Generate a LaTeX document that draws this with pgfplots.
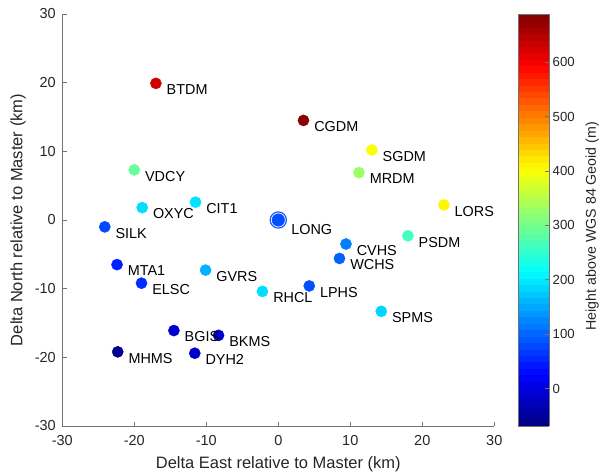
\documentclass[border=0pt]{standalone}
\usepackage{pgfplots}
\pgfplotsset{compat=1.18}
\usepackage{pgfplotstable}
\usepackage{fontspec}
\setmainfont{Liberation Sans}

\definecolor{axgray}{gray}{0.45}
\definecolor{txtgray}{gray}{0.15}
\definecolor{longblue}{RGB}{30,90,255}

% 64-step jet colormap
\pgfplotsset{colormap/jet, colormap={jet64}{samples of colormap=(64 of jet)}}

% station positions (km relative to master) and height above geoid (m)
\pgfplotstableread{
x      y      h    name
-17.0  19.9   630  BTDM
3.5    14.5   680  CGDM
13.0   10.2   400  SGDM
11.2   6.9    330  MRDM
23.0   2.2    410  LORS
18.0   -2.3   263  PSDM
-20.0  7.3    291  VDCY
-18.9  1.8    190  OXYC
-11.5  2.6    196  CIT1
-24.1  -1.0   80   SILK
9.4    -3.5   120  CVHS
8.5    -5.6   98   WCHS
-22.4  -6.5   48   MTA1
-19.0  -9.2   60   ELSC
-10.1  -7.3   158  GVRS
-2.2   -10.4  190  RHCL
4.3    -9.6   85   LPHS
14.3   -13.3  185  SPMS
-14.5  -16.1  -12  BGIS
-8.3   -16.8  -10  BKMS
-22.3  -19.2  -60  MHMS
-11.6  -19.4  -14  DYH2
}\stations

\begin{document}
\begin{tikzpicture}
\begin{axis}[
  at={(0,0)}, anchor=south west,
  scale only axis, width=432bp, height=412bp,
  xmin=-30, xmax=30, ymin=-30, ymax=30,
  xtick={-30,-20,...,30}, ytick={-30,-20,...,30},
  axis x line*=bottom, axis y line*=left,
  axis line style={draw=axgray, line width=0.7bp},
  tick style={draw=axgray, line width=0.7bp},
  tick align=inside, major tick length=4.5bp,
  tick label style={font=\fontsize{14.5bp}{17bp}\selectfont, text=txtgray},
  xticklabel style={yshift=-6bp},
  yticklabel style={xshift=-3bp},
  /pgf/number format/assume math mode=true,
  xlabel={Delta East relative to Master (km)},
  ylabel={Delta North relative to Master (km)},
  label style={font=\fontsize{16.5bp}{19bp}\selectfont, text=txtgray},
  xlabel style={at={(axis description cs:0.5,-0.092)}, anchor=center},
  ylabel style={at={(axis description cs:-0.1025,0.5)}, anchor=center},
  colormap name=jet64,
  point meta min=-69, point meta max=689,
  colorbar sampled,
  colorbar style={
    samples=65,
    at={(parent axis.right of north east)}, anchor=north west, xshift=4.3bp,
    width=30.7bp,
    ytick={0,100,...,600},
    ytick pos=right, yticklabel pos=right,
    tick align=inside, major tick length=4.5bp,
    axis line style={draw=axgray, line width=0.7bp},
    tick style={draw=axgray, line width=0.7bp},
    tick label style={font=\fontsize{13.2bp}{15bp}\selectfont, text=txtgray},
    /pgf/number format/assume math mode=true,
    ylabel={Height above WGS 84 Geoid (m)},
    ylabel style={font=\fontsize{14.2bp}{16bp}\selectfont, text=txtgray,
      at={(axis description cs:2.40,0.485)}, anchor=center},
  },
  clip=false,
]
% master station: ring behind the dot
\addplot[only marks, mark=*, mark size=8.1bp,
  mark options={draw=longblue, fill=white, line width=1.2bp}]
  coordinates {(0,0)};
\addplot[scatter, only marks, mark=*, mark size=6.3bp,
  scatter src=explicit,
  scatter/use mapped color={draw=mapped color, fill=mapped color}]
  coordinates {(0,0) [85]};
% remaining stations
\addplot[scatter, only marks, mark=*, mark size=5.6bp,
  scatter src=explicit,
  scatter/use mapped color={draw=mapped color, fill=mapped color}]
  table[x=x, y=y, meta=h] {\stations};
% station names
\addplot[only marks, mark=none, point meta=explicit symbolic,
  nodes near coords,
  nodes near coords style={anchor=west, xshift=7.3bp, yshift=-6.4bp,
    font=\fontsize{14.4bp}{17bp}\selectfont, text=black}]
  table[x=x, y=y, meta=name] {\stations};
\addplot[only marks, mark=none, point meta=explicit symbolic,
  nodes near coords,
  nodes near coords style={anchor=west, xshift=9.5bp, yshift=-10bp,
    font=\fontsize{14.4bp}{17bp}\selectfont, text=black}]
  coordinates {(0,0) [LONG]};
\end{axis}
\pgfresetboundingbox
\path (-62.3bp,-46bp) rectangle (540.7bp,426bp);
\end{tikzpicture}
\end{document}
